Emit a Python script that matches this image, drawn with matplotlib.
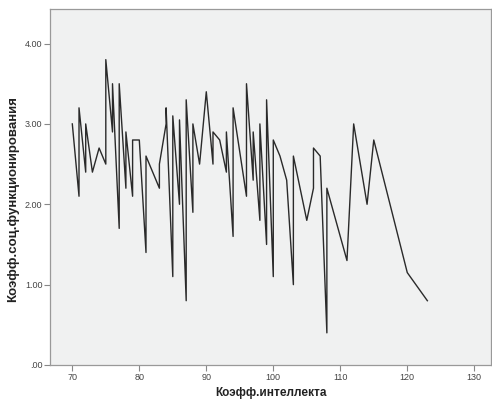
import matplotlib
matplotlib.use("Agg")
import matplotlib.pyplot as plt
from matplotlib.ticker import FuncFormatter

# Коэфф.интеллекта (по возрастанию, повторы = несколько случаев)
iq = [70, 71, 71, 72, 72, 73, 74, 75, 75, 76, 76, 77, 77, 78, 78, 79, 79,
      80, 81, 81, 83, 83, 84, 84, 85, 85, 86, 86, 87, 87, 88, 88, 89, 90,
      91, 91, 92, 93, 93, 94, 94, 96, 96, 97, 97, 98, 98, 99, 99, 100, 100,
      101, 102, 103, 103, 105, 106, 106, 107, 108, 108, 111, 112, 114, 115,
      120, 123]
# Коэфф.соц.функционирования
soc = [3.0, 2.1, 3.2, 2.4, 3.0, 2.4, 2.7, 2.5, 3.8, 2.9, 3.5, 1.7, 3.5, 2.2, 2.9, 2.1, 2.8,
       2.8, 1.4, 2.6, 2.2, 2.5, 3.0, 3.2, 1.1, 3.1, 2.0, 3.05, 0.8, 3.3, 1.9, 3.0, 2.5, 3.4,
       2.5, 2.9, 2.8, 2.4, 2.9, 1.6, 3.2, 2.1, 3.5, 2.3, 2.9, 1.8, 3.0, 1.5, 3.3, 1.1, 2.8,
       2.6, 2.3, 1.0, 2.6, 1.8, 2.2, 2.7, 2.6, 0.4, 2.2, 1.3, 3.0, 2.0, 2.8,
       1.15, 0.8]

x_ticks = [70, 80, 90, 100, 110, 120, 130]
y_ticks = [0, 1, 2, 3, 4]

plt.rcParams['font.family'] = ['Liberation Sans', 'DejaVu Sans']

fig = plt.figure(figsize=(4.92, 4.0), dpi=100)
ax = fig.add_axes([50 / 492, 35 / 400, 441 / 492, 356 / 400])
ax.set_facecolor('#f0f1f1')

ax.plot(iq, soc, color='#2a2a2a', linewidth=1.0)

ax.set_xlim(66.67, 132.5)
ax.set_ylim(0, 4.43)
ax.set_xticks(x_ticks)
ax.set_yticks(y_ticks)

# подписи как в SPSS: .00, 1.00 ...
ax.yaxis.set_major_formatter(FuncFormatter(lambda v, p: ('%.2f' % v).lstrip('0') if v < 1 else '%.2f' % v))

ax.tick_params(axis='both', direction='out', length=4, width=0.8,
               colors='#888888', labelcolor='#444444', labelsize=6.5, pad=1.5)

for side in ['left', 'bottom', 'top', 'right']:
    ax.spines[side].set_color('#999999')
    ax.spines[side].set_linewidth(0.9)

ax.set_xlabel("Коэфф.интеллекта", fontsize=8.5, fontweight='bold', color='#222222', labelpad=4)
ax.set_ylabel("Коэфф.соц.функционирования", fontsize=9.5, fontweight='bold', color='#222222')
ax.yaxis.set_label_coords(-0.07, 0.466)

fig.savefig('out.png', dpi=100)
